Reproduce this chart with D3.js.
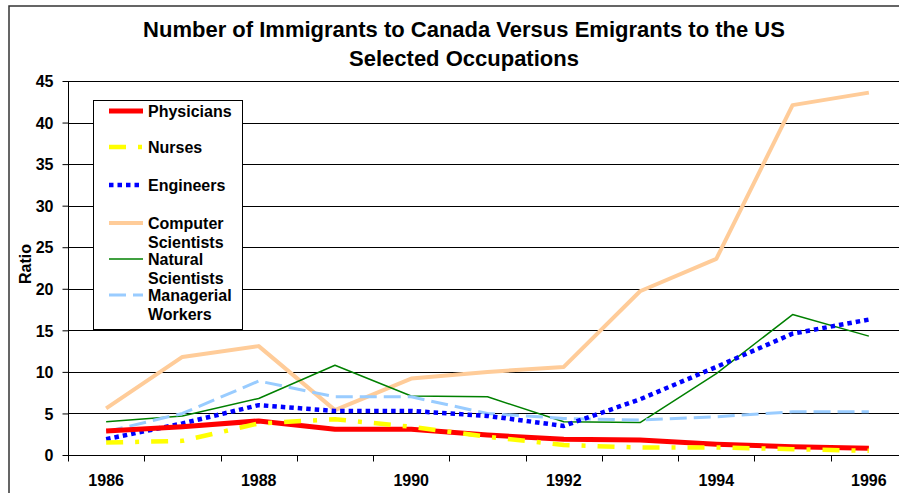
<!DOCTYPE html>
<html><head><meta charset="utf-8">
<script src="https://cdn.jsdelivr.net/npm/d3@7"></script>
<style>
html,body{margin:0;padding:0;background:#fff;}
text{font-family:"Liberation Sans",Arial,sans-serif;font-weight:bold;fill:#000;}
</style></head>
<body><svg id="c" width="899" height="493"></svg>
<script>
const years = ["1986","1987","1988","1989","1990","1991","1992","1993","1994","1995","1996"];
const yTicks = [0,5,10,15,20,25,30,35,40,45];
const physicians = [2.9,3.4,4.1,3.1,3.1,2.4,1.9,1.8,1.3,1.0,0.8];
const nurses = [1.5,1.7,3.8,4.3,3.4,2.2,1.2,0.9,0.9,0.7,0.5];
const engineers = [1.9,3.8,6.0,5.3,5.3,4.7,3.5,6.7,10.6,14.6,16.3];
const computerScientists = [5.6,11.8,13.1,5.4,9.2,10.0,10.6,19.7,23.6,42.1,43.6];
const naturalScientists = [4.0,4.7,6.8,10.8,7.1,7.0,4.0,3.9,9.8,16.9,14.3];
const managerialWorkers = [2.8,5.0,8.9,7.0,7.0,5.0,4.4,4.2,4.6,5.2,5.2];

const series = [
  {name:["Physicians"], values:physicians, color:"#ff0000", width:5, dash:null},
  {name:["Nurses"], values:nurses, color:"#ffff00", width:4.5, dash:"17,12,4,12"},
  {name:["Engineers"], values:engineers, color:"#0000ff", width:4.5, dash:"4.5,4"},
  {name:["Computer","Scientists"], values:computerScientists, color:"#ffcc99", width:4, dash:null},
  {name:["Natural","Scientists"], values:naturalScientists, color:"#008000", width:1.5, dash:null},
  {name:["Managerial","Workers"], values:managerialWorkers, color:"#99ccff", width:3, dash:"17,7"}
];

const svg = d3.select("#c");
const L = 68, R = 907, T = 81, B = 455;

// outer border
svg.append("path").attr("d","M9,493 V6 H899").attr("fill","none").attr("stroke","#333").attr("stroke-width",1.5);

const x = d3.scaleBand().domain(years).range([L,R]);
const y = d3.scaleLinear().domain([0,45]).range([B,T]);

// gridlines
svg.append("g").selectAll("line").data(yTicks.filter(d=>d>0)).join("line")
  .attr("x1",L).attr("x2",R).attr("y1",d=>Math.round(y(d))+0.5).attr("y2",d=>Math.round(y(d))+0.5)
  .attr("stroke","#000").attr("stroke-width",1);

// y axis
const yAxis = d3.axisLeft(y).tickValues(yTicks).tickSize(6).tickPadding(9);
const gy = svg.append("g").attr("transform",`translate(${L+0.5},0)`).call(yAxis);
gy.select(".domain").attr("stroke","#000").attr("d",`M0,${T}V${B}`);
gy.selectAll(".tick line").attr("stroke","#000");
gy.selectAll("text").attr("font-size",16).attr("font-family","Liberation Sans, Arial, sans-serif").attr("font-weight","bold").attr("fill","#000").attr("dy","0.36em");

// x axis
const gx = svg.append("g").attr("transform",`translate(0,${B+0.5})`);
gx.append("path").attr("stroke","#000").attr("fill","none").attr("d",`M${L},0H${R}`);
gx.selectAll("line.t").data(years.map(d=>x(d))).join("line").attr("class","t")
  .attr("x1",d=>Math.round(d)+0.5).attr("x2",d=>Math.round(d)+0.5).attr("y1",0).attr("y2",6).attr("stroke","#000");
svg.append("g").selectAll("text").data(years.filter((d,i)=>i%2===0)).join("text")
  .attr("x",d=>x(d)+x.bandwidth()/2).attr("y",486).attr("text-anchor","middle").attr("font-size",16).text(d=>d);

// y axis title
svg.append("text").attr("transform","translate(31,264) rotate(-90)").attr("text-anchor","middle").attr("font-size",16).text("Ratio");

// title
svg.append("text").attr("x",464).attr("y",37).attr("text-anchor","middle").attr("font-size",22).text("Number of Immigrants to Canada Versus Emigrants to the US");
svg.append("text").attr("x",464).attr("y",66).attr("text-anchor","middle").attr("font-size",22).text("Selected Occupations");

// lines
const line = d3.line().x((d,i)=>x(years[i])+x.bandwidth()/2).y(d=>y(d));
const order = [3,4,5,2,0,1];
svg.append("g").selectAll("path").data(order.map(i=>series[i])).join("path")
  .attr("d",d=>line(d.values)).attr("fill","none")
  .attr("stroke",d=>d.color).attr("stroke-width",d=>d.width)
  .attr("stroke-dasharray",d=>d.dash)
  .attr("stroke-linejoin","round");

// legend
const lg = svg.append("g");
lg.append("rect").attr("x",93.5).attr("y",100.5).attr("width",149).attr("height",229).attr("fill","#fff").attr("stroke","#000").attr("stroke-width",1);
const rowsY = [111,147,185,223,259,295];
series.forEach((s,i)=>{
  lg.append("line").attr("x1",109).attr("x2",143).attr("y1",rowsY[i]).attr("y2",rowsY[i])
    .attr("stroke",s.color).attr("stroke-width",s.width).attr("stroke-dasharray",s.dash);
  s.name.forEach((t,j)=>{
    lg.append("text").attr("x",148).attr("y",rowsY[i]+6+j*19).attr("font-size",16).text(t);
  });
});
</script></body></html>
